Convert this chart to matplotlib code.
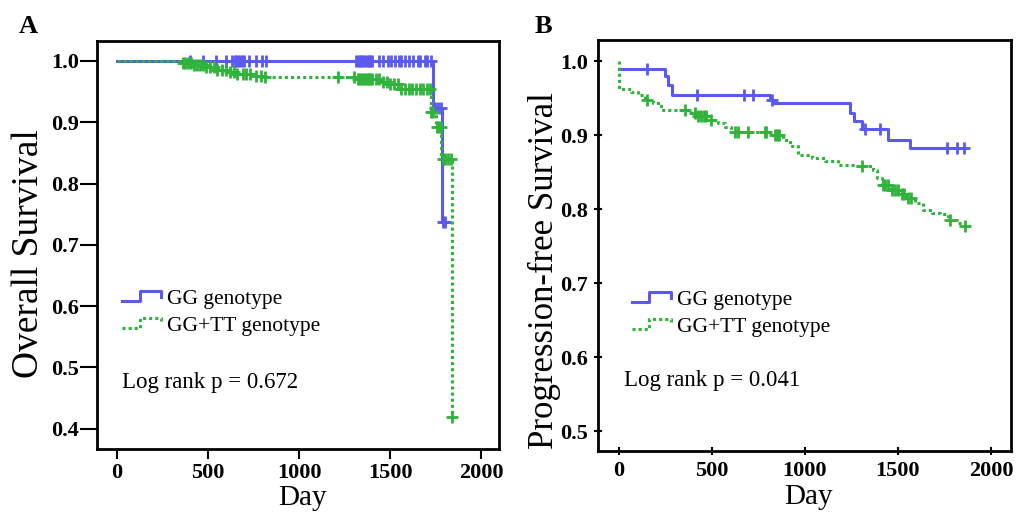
import numpy as np
import matplotlib
matplotlib.use("Agg")
import matplotlib.pyplot as plt
from matplotlib.lines import Line2D
from matplotlib.legend_handler import HandlerBase

plt.rcParams['font.family'] = ['Liberation Serif', 'DejaVu Serif']

# ---- Panel A: overall survival (step times / survival, censor times) ----
a_gg_t = [0, 1734, 1781, 1800]
a_gg_s = [1.0, 0.923, 0.738, 0.738]
a_gg_cens = [400, 470, 540, 600, 632, 645, 655, 665, 675, 687,
             698, 725, 764, 797, 819, 1313, 1322, 1331, 1340, 1350, 1360, 1370,
             1380, 1390, 1401, 1440, 1462, 1485, 1505, 1525, 1545, 1560, 1580,
             1600, 1625, 1650, 1665, 1690, 1703, 1725, 1745, 1760, 1775, 1790, 1800]

a_tt_t = [0, 354, 418, 483, 547, 602, 657, 749, 804, 1317, 1446, 1483, 1556,
          1721, 1750, 1780, 1837, 1840]
a_tt_s = [1.0, 0.996, 0.993, 0.990, 0.986, 0.982, 0.978, 0.976, 0.973, 0.971,
          0.966, 0.963, 0.955, 0.917, 0.893, 0.840, 0.420, 0.420]
a_tt_cens = [360, 375, 390, 405, 420, 440, 455, 470, 490, 510, 530, 550, 575,
             600, 620, 640, 660, 690, 710, 730, 760, 790, 810, 1215, 1298, 1320,
             1330, 1340, 1350, 1360, 1370, 1380, 1390, 1400, 1420, 1440, 1460,
             1480, 1500, 1520, 1540, 1560, 1580, 1600, 1620, 1640, 1660, 1680,
             1700, 1715, 1725, 1735, 1755, 1765, 1775, 1790, 1800, 1815, 1830, 1840]

# ---- Panel B: progression-free survival ----
b_gg_t = [0, 248, 265, 282, 813, 827, 1243, 1261, 1306, 1449, 1566, 1862]
b_gg_s = [0.990, 0.980, 0.968, 0.955, 0.948, 0.944, 0.930, 0.919, 0.908,
          0.894, 0.883, 0.883]
b_gg_cens = [149, 418, 673, 723, 822, 1324, 1405, 1764, 1817, 1853]

b_tt_t = [0, 1, 65, 101, 137, 182, 226, 388, 424, 478, 532, 568, 603, 837,
          882, 918, 963, 1035, 1107, 1178, 1268, 1367, 1385, 1412, 1457, 1502,
          1547, 1591, 1636, 1681, 1726, 1771, 1816, 1862]
b_tt_s = [1.0, 0.963, 0.959, 0.955, 0.948, 0.944, 0.935, 0.930, 0.926, 0.921,
          0.917, 0.912, 0.905, 0.901, 0.894, 0.885, 0.874, 0.869, 0.865, 0.860,
          0.858, 0.853, 0.842, 0.833, 0.826, 0.821, 0.815, 0.808, 0.799, 0.795,
          0.793, 0.786, 0.781, 0.777]
b_tt_cens = [149, 352, 410, 425, 440, 455, 470, 495, 621, 639, 693, 783, 792,
             840, 850, 860, 1306, 1420, 1432, 1445, 1470, 1485, 1500, 1520,
             1535, 1555, 1570, 1780, 1862]

labels = ['GG genotype', 'GG+TT genotype']
pvals = ['Log rank p = 0.672', 'Log rank p = 0.041']

blue = '#5a5af0'
green = '#2fb33a'
dotted = (0, (1, 1))


def surv_at(t, s, c):
    idx = np.searchsorted(t, c, side='right') - 1
    return np.asarray(s)[idx]


class StepHandler(HandlerBase):
    # little "step" icon like the SPSS legend
    def create_artists(self, legend, orig_handle, xdescent, ydescent,
                       width, height, fontsize, trans):
        x = np.array([0, 0.45, 0.45, 1.0, 1.0]) * width - xdescent
        y = np.array([0.2, 0.2, 0.85, 0.85, 0.45]) * height - ydescent
        ln = Line2D(x, y)
        ln.update_from(orig_handle)
        ln.set_transform(trans)
        return [ln]


def km_panel(ax, curves):
    handles = []
    for t, s, cens, col, ls, z in curves:
        h, = ax.step(t, s, where='post', color=col, lw=2.2, linestyle=ls,
                     zorder=z)
        ax.plot(cens, surv_at(t, s, cens), linestyle='none', marker='+',
                ms=9, mew=2, color=col, zorder=z)
        handles.append(h)
    for sp in ax.spines.values():
        sp.set_linewidth(2)
    return handles


fig = plt.figure(figsize=(10.17, 5.12), dpi=100)
axA = fig.add_axes([0.0951, 0.1230, 0.3959, 0.7975])
axB = fig.add_axes([0.5877, 0.1191, 0.4064, 0.8027])

hA = km_panel(axA, [(a_gg_t, a_gg_s, a_gg_cens, blue, '-', 2),
                    (a_tt_t, a_tt_s, a_tt_cens, green, dotted, 3)])
hB = km_panel(axB, [(b_gg_t, b_gg_s, b_gg_cens, blue, '-', 2),
                    (b_tt_t, b_tt_s, b_tt_cens, green, dotted, 3)])

axA.set_xlim(-112, 2098)
axA.set_ylim(0.367, 1.033)
axA.set_yticks([0.4, 0.5, 0.6, 0.7, 0.8, 0.9, 1.0])
axA.tick_params(axis='y', direction='out', length=12, width=1.5, pad=1)
axA.tick_params(axis='x', direction='out', length=7, width=1.5, pad=3)

axB.set_xlim(-115, 2108)
axB.set_ylim(0.473, 1.029)
axB.set_yticks([0.5, 0.6, 0.7, 0.8, 0.9, 1.0])
axB.tick_params(axis='both', direction='inout', length=6, width=1.5, pad=4)

for ax in (axA, axB):
    ax.set_xticks([0, 500, 1000, 1500, 2000])
    for lb in ax.get_xticklabels() + ax.get_yticklabels():
        lb.set_fontsize(16)
        lb.set_fontweight('bold')
    ax.set_xlabel('Day', fontsize=21, va='center')
ax_lab_y = {axA: -0.12, axB: -0.112}
for ax, yy in ax_lab_y.items():
    ax.xaxis.set_label_coords(0.51, yy)

axA.set_ylabel('Overall Survival', fontsize=27, va='center')
axA.yaxis.set_label_coords(-0.168, 0.478)
axB.set_ylabel('Progression-free Survival', fontsize=25, va='center')
axB.yaxis.set_label_coords(-0.13, 0.44)

for ax, h, p, lx, px, py in [(axA, hA, pvals[0], 0.063, 0.063, 0.162),
                             (axB, hB, pvals[1], 0.083, 0.064, 0.172)]:
    ax.legend(h, labels, handler_map={Line2D: StepHandler()},
              loc='center left', bbox_to_anchor=(lx, 0.335), frameon=False,
              fontsize=15.5, handlelength=1.8, handletextpad=0.3,
              labelspacing=0.3, borderpad=0, borderaxespad=0)
    ax.text(px, py, p, transform=ax.transAxes, fontsize=16.5,
            va='center', ha='left')

fig.text(0.018, 0.948, 'A', fontsize=19, fontweight='bold', va='center')
fig.text(0.526, 0.948, 'B', fontsize=19, fontweight='bold', va='center')

fig.savefig('out.png', dpi=100)
